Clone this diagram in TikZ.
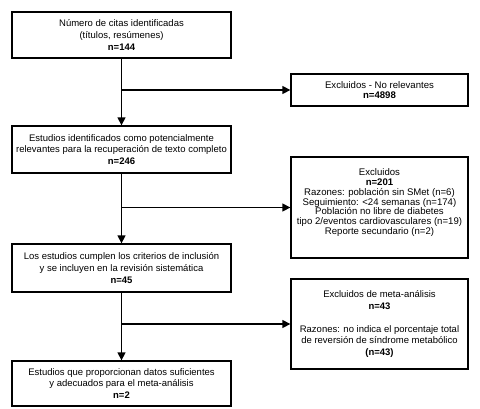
\documentclass[tikz,border=0pt]{standalone}
\usepackage{fontspec}
\setmainfont{Liberation Sans}
\usetikzlibrary{arrows.meta}
\tikzset{
  box/.style={draw, line width=1.3pt, align=center, inner sep=0pt,
    font=\fontsize{9.5}{11.7}\selectfont},
  tight/.style={font=\fontsize{9.6}{9.8}\selectfont},
  arr/.style={line width=1.3pt, -{Triangle[length=8pt,width=8pt]}}
}
\begin{document}
\begin{tikzpicture}[x=1pt,y=1pt]
\useasboundingbox (0,0) rectangle (480,-408);
\node[box, minimum width=219pt, minimum height=46pt] (b1) at (121.5,-35)
  {Número de citas identificadas\\(títulos, resúmenes)\\\textbf{n=144}};
\node[box, minimum width=219pt, minimum height=47pt] (b2) at (121.5,-149.5)
  {Estudios identificados como potencialmente\\relevantes para la recuperación de texto completo\\\textbf{n=246}};
\node[box, minimum width=219pt, minimum height=48pt] (b3) at (121.5,-268)
  {Los estudios cumplen los criterios de inclusión\\y se incluyen en la revisión sistemática\\\textbf{n=45}};
\node[box, minimum width=219pt, minimum height=45pt] (b4) at (121.5,-383.5)
  {Estudios que proporcionan datos suficientes\\y adecuados para el meta-análisis\\\textbf{n=2}};
\node[box, tight, minimum width=177pt, minimum height=32pt] (r1) at (379.5,-90)
  {Excluidos - No relevantes\\\textbf{n=4898}};
\node[box, tight, minimum width=177pt, minimum height=101pt] (r2) at (379.5,-207.5)
  {Excluidos\\\textbf{n=201}\\Razones: población sin SMet (n=6)\\Seguimiento: <24 semanas (n=174)\\Población no libre de diabetes\\tipo 2/eventos cardiovasculares (n=19)\\Reporte secundario (n=2)\\[2pt]\mbox{}};
\node[box, minimum width=177pt, minimum height=90pt] (r3) at (379.5,-324)
  {Excluidos de meta-análisis\\\textbf{n=43}\\[11pt]Razones: no indica el porcentaje total\\de reversión de síndrome metabólico\\\textbf{(n=43)}};
\coordinate (j1) at (b1.south |- r1.west);
\coordinate (j2) at (b2.south |- r2.west);
\coordinate (j3) at (b3.south |- r3.west);
\draw[arr] (b1.south) -- (b2.north);
\draw[arr] (b2.south) -- (b3.north);
\draw[arr] (b3.south) -- (b4.north);
\draw[arr] (j1) -- (r1.west);
\draw[arr] (j2) -- (r2.west);
\draw[arr] (j3) -- (r3.west);
\end{tikzpicture}
\end{document}
